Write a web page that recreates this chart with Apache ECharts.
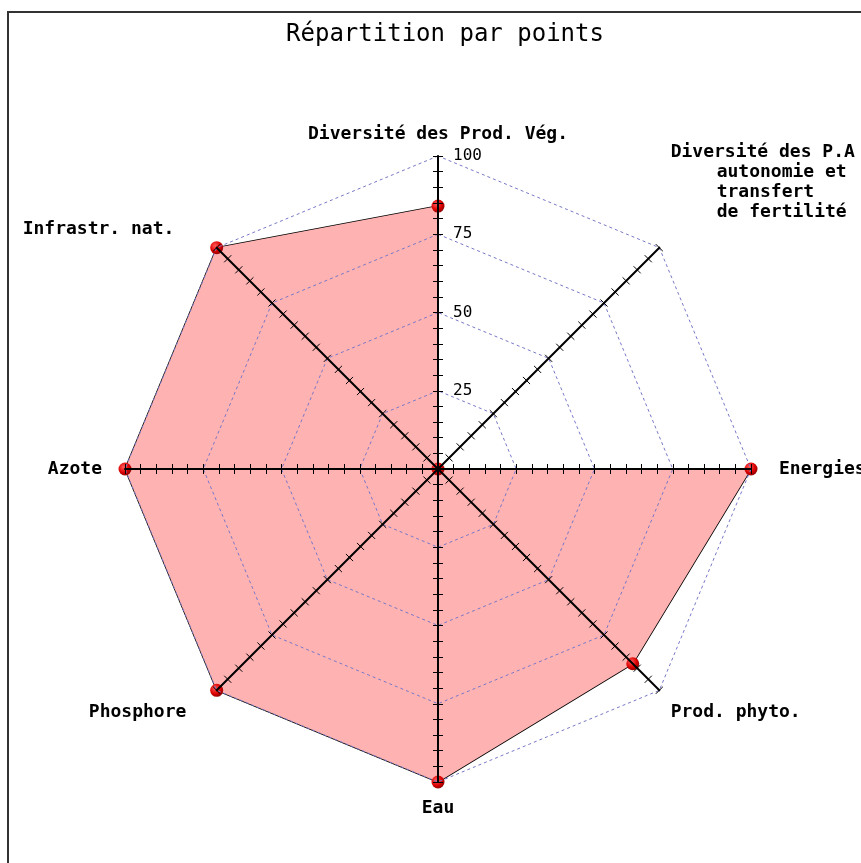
<!DOCTYPE html>
<html>
<head>
<meta charset="utf-8">
<title>Répartition par points</title>
<script src="https://cdn.jsdelivr.net/npm/echarts@6/dist/echarts.min.js"></script>
<style>
  html, body { margin: 0; padding: 0; background: #fff; }
  #chart { width: 861px; height: 863px; }
</style>
</head>
<body>
<div id="chart"></div>
<script>
// axes, clockwise from the top
var categories = [
  "Diversité des Prod. Vég.",
  "Diversité des P.A\nautonomie et\ntransfert\nde fertilité",
  "Energies",
  "Prod. phyto.",
  "Eau",
  "Phosphore",
  "Azote",
  "Infrastr. nat."
];
var points = [84, 0, 100, 88, 100, 100, 100, 100];
var maxValue = 100;
var tickLabels = [25, 50, 75, 100];

var mono = "DejaVu Sans Mono";
var center = [438, 469];
var radius = 313;

// echarts lays radar axes out counter-clockwise, the picture goes clockwise
var order = [0, 7, 6, 5, 4, 3, 2, 1];

// name label nudges, per axis (clockwise index)
var namePad = [
  [0, 0, 0, 0],
  [0, 0, 0, 0],
  [0, 0, 0, 12],
  [22, 0, 0, 0],
  [0, 0, 0, 0],
  [22, 19, 0, 0],
  [0, 7, 0, 0],
  [0, 31, 14, 0]
];

function nameStyle(extra) {
  var s = { fontFamily: mono, fontSize: 18, fontWeight: "bold", color: "#000", lineHeight: 20 };
  for (var k in extra) s[k] = extra[k];
  return s;
}
var rich = {};
namePad.forEach(function (p, i) { rich["n" + i] = nameStyle({ padding: p }); });
rich.n0.lineHeight = 12;
rich.pa0 = nameStyle({});
rich.pa1 = nameStyle({ padding: [0, 0, 0, 46] });
rich.sp = nameStyle({ lineHeight: 108 });

function nameText(name) {
  var i = categories.indexOf(name);
  var lines = name.split("\n");
  if (lines.length > 1) {
    return lines.map(function (l, k) {
      return "{" + (k === 0 ? "pa0" : "pa1") + "|" + l + "}";
    }).join("\n") + "\n{sp| }";
  }
  return "{n" + i + "|" + name + "}";
}

var mainIndicators = order.map(function (ci) {
  var ind = { name: categories[ci], max: maxValue, min: 0 };
  if (ci !== 0) ind.axisLabel = { show: false };
  return ind;
});
var tickIndicators = order.map(function (ci) {
  return { name: categories[ci], max: maxValue, min: 0 };
});

function tickRadar(len) {
  return {
    center: center,
    radius: radius,
    startAngle: 90,
    shape: "polygon",
    z: 3,
    splitNumber: 20,
    indicator: tickIndicators,
    axisName: { show: false },
    axisLine: { show: false },
    splitLine: { show: false },
    splitArea: { show: false },
    axisLabel: { show: false },
    axisTick: { show: true, length: len, lineStyle: { color: "#000", width: 1 } }
  };
}

var chart = echarts.init(document.getElementById("chart"));
var option = {
  animation: false,
  backgroundColor: "#fff",
  title: {
    text: "Répartition par points",
    left: 440,
    top: 18,
    textAlign: "center",
    textStyle: { fontFamily: mono, fontSize: 24, fontWeight: "normal", color: "#000" }
  },
  graphic: [{
    type: "rect",
    shape: { x: 8, y: 12, width: 1000, height: 1000 },
    style: { fill: "none", stroke: "#333", lineWidth: 2 },
    silent: true
  }],
  radar: [
    {
      center: center,
      radius: radius,
      startAngle: 90,
      shape: "polygon",
      z: 3,
      splitNumber: 4,
      indicator: mainIndicators,
      nameGap: 16,
      axisName: {
        formatter: nameText,
        rich: rich,
        fontFamily: mono,
        fontSize: 18,
        fontWeight: "bold",
        color: "#000"
      },
      axisLine: { show: true, lineStyle: { color: "#000", width: 2 } },
      axisTick: { show: false },
      axisLabel: {
        show: true,
        showMinLabel: false,
        margin: -15,
        align: "left",
        fontFamily: mono,
        fontSize: 16,
        color: "#000",
        formatter: function (v) { return tickLabels.indexOf(v) >= 0 ? String(v) : ""; }
      },
      splitLine: { show: true, lineStyle: { color: "#7878c8", width: 1, type: [3, 3] } },
      splitArea: { show: false }
    },
    tickRadar(5),
    tickRadar(-5)
  ],
  series: [{
    type: "radar",
    radarIndex: 0,
    symbol: "circle",
    symbolSize: 13,
    z: 2,
    data: [{
      value: order.map(function (ci) { return points[ci]; }),
      lineStyle: { color: "#000", width: 1.5 },
      areaStyle: { color: "#ffb2b2", opacity: 1 },
      itemStyle: {
        color: {
          type: "radial", x: 0.38, y: 0.35, r: 0.7,
          colorStops: [{ offset: 0, color: "#ff5a5a" }, { offset: 0.6, color: "#dd0000" }, { offset: 1, color: "#880000" }]
        },
        borderWidth: 0
      }
    }]
  }]
};
chart.setOption(option);
</script>
</body>
</html>
